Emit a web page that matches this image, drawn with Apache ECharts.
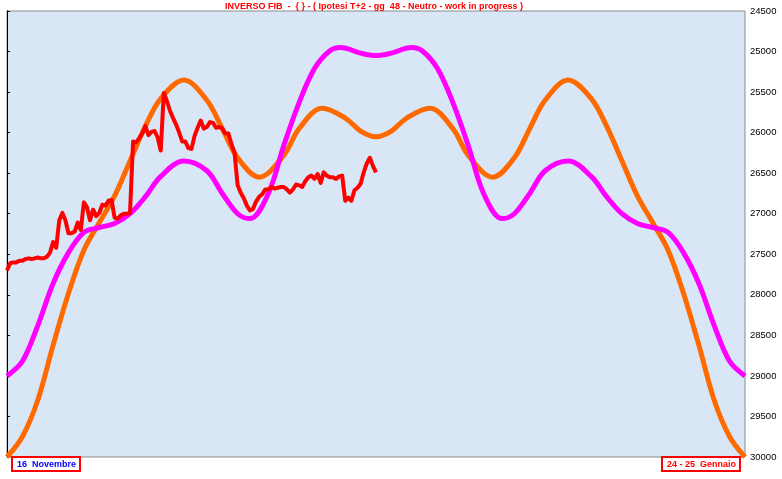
<!DOCTYPE html>
<html>
<head>
<meta charset="utf-8">
<script src="https://cdn.jsdelivr.net/npm/echarts@6/dist/echarts.min.js"></script>
<style>
html,body{margin:0;padding:0;background:#fff;}
#c{width:782px;height:479px;}
</style>
</head>
<body>
<div id="c"></div>
<script>
// ---- data ----
const titleText = 'INVERSO FIB  -  { } - ( Ipotesi T+2 - gg  48 - Neutro - work in progress )';
const startLabel = '16  Novembre';
const endLabel = '24 - 25  Gennaio';
const yMin = 24500, yMax = 30000, yStep = 500;
const dayMin = 0, dayMax = 48;

// orange cycle (knots in trading days, including turning points)
const orangeDays = [0, 1, 2, 3, 4, 5, 6, 7, 8, 9, 10, 11.5, 13, 14, 15, 16.4, 18, 19, 20.5, 22, 23, 24,
  25, 26, 27.5, 29, 30, 31.6, 33, 34, 35, 36.5, 38, 39, 40, 41, 42, 43, 44, 45, 46, 47, 48];
const orangeValues = [30000, 29750, 29300, 28620, 27980, 27450, 27110, 26780, 26350, 25920, 25580, 25350,
  25600, 25950, 26310, 26550, 26280, 25950, 25700, 25820, 25980, 26050,
  25980, 25820, 25700, 25950, 26280, 26550, 26310, 25950, 25600, 25350, 25580, 25920, 26350, 26780,
  27110, 27450, 27980, 28620, 29300, 29750, 30000];

// magenta cycle
const magentaDays = [0, 1, 2, 3, 4, 5, 6, 7, 8, 9, 10, 11.5, 13, 14, 15, 15.8, 17, 18, 19, 20, 21, 21.7, 23, 24,
  25, 26.3, 27, 28, 29, 30, 31, 32.2, 33, 34, 35, 36.5, 38, 39, 40, 41, 42, 43, 44, 45, 46, 47, 48];
const magentaValues = [29000, 28820, 28380, 27860, 27480, 27230, 27170, 27120, 27000, 26790, 26540, 26350,
  26470, 26750, 27000, 27060, 26750, 26160, 25630, 25210, 24990, 24950, 25020, 25050,
  25020, 24950, 24990, 25210, 25630, 26160, 26750, 27060, 27000, 26750, 26470, 26350,
  26540, 26790, 27000, 27120, 27170, 27230, 27480, 27860, 28380, 28820, 29000];

// price (one sample every 0.2 trading days)
const priceStep = 0.2;
const priceValues = [27700, 27610, 27600, 27600, 27580, 27580, 27560, 27550, 27560, 27550,
  27540, 27550, 27550, 27530, 27480, 27350, 27420, 27080, 26990, 27080,
  27240, 27240, 27220, 27110, 27200, 26860, 26920, 27080, 26950, 27030,
  26990, 26890, 26900, 26840, 26830, 27050, 27060, 27020, 27000, 27000,
  26990, 26110, 26120, 26070, 26010, 25920, 26030, 25990, 25980, 26060,
  26220, 25510, 25610, 25730, 25820, 25900, 26000, 26110, 26110, 26190,
  26200, 26040, 25940, 25850, 25950, 25930, 25870, 25880, 25940, 25930,
  25950, 26010, 26010, 26140, 26250, 26650, 26740, 26810, 26900, 26960,
  26940, 26850, 26790, 26760, 26700, 26700, 26670, 26690, 26680, 26670,
  26670, 26700, 26740, 26700, 26640, 26650, 26670, 26600, 26550, 26530,
  26570, 26510, 26620, 26490, 26530, 26550, 26550, 26570, 26540, 26530,
  26840, 26800, 26840, 26710, 26680, 26630, 26490, 26380, 26310, 26410,
  26490];

// ---- chart ----
const chart = echarts.init(document.getElementById('c'), null, {renderer: 'canvas'});
const font = 'Liberation Sans, Arial, sans-serif';
chart.setOption({
  animation: false,
  backgroundColor: '#ffffff',
  title: [
    {text: titleText, left: 374, textAlign: 'center', top: 0, padding: [2, 0, 0, 0],
     textStyle: {color: '#ff0000', fontSize: 9, fontWeight: 'bold', fontFamily: font}},
    {text: startLabel, left: 12, top: 457, padding: [3, 4, 2, 5],
     borderColor: '#ff0000', borderWidth: 2,
     textStyle: {color: '#0000ff', fontSize: 9, fontWeight: 'bold', fontFamily: font}},
    {text: endLabel, right: 42, top: 457, padding: [3, 4, 2, 5],
     borderColor: '#ff0000', borderWidth: 2,
     textStyle: {color: '#ff0000', fontSize: 9, fontWeight: 'bold', fontFamily: font}}
  ],
  grid: {left: 7, right: 37, top: 11, bottom: 22, show: true,
         backgroundColor: '#d8e6f5', borderColor: '#8a8a8a', borderWidth: 1},
  xAxis: {type: 'value', min: dayMin, max: dayMax, show: false},
  yAxis: [
    {type: 'value', position: 'right', inverse: true,
     min: yMin, max: yMax, interval: yStep,
     axisLine: {show: true, lineStyle: {color: '#000', width: 1}},
     axisTick: {show: true, length: 3, lineStyle: {color: '#000'}},
     axisLabel: {color: '#000', fontSize: 9.5, fontFamily: font, margin: 5,
                 formatter: v => String(v)},
     splitLine: {show: false}},
    {type: 'value', position: 'left', inverse: true,
     min: yMin, max: yMax, interval: yStep,
     axisLine: {show: true, lineStyle: {color: '#000', width: 1}},
     axisTick: {show: false}, axisLabel: {show: false}, splitLine: {show: false}}
  ],
  series: [
    {type: 'line', name: 'orange', smooth: 0.35, symbol: 'none',
     data: orangeDays.map((d, i) => [d, orangeValues[i]]),
     lineStyle: {color: '#ff6a00', width: 5}},
    {type: 'line', name: 'magenta', smooth: 0.35, symbol: 'none',
     data: magentaDays.map((d, i) => [d, magentaValues[i]]),
     lineStyle: {color: '#ff00ff', width: 5}},
    {type: 'line', name: 'price', smooth: false, symbol: 'none',
     data: priceValues.map((v, i) => [i * priceStep, v]),
     lineStyle: {color: '#ff0000', width: 4, join: 'round'}}
  ]
});
</script>
</body>
</html>
